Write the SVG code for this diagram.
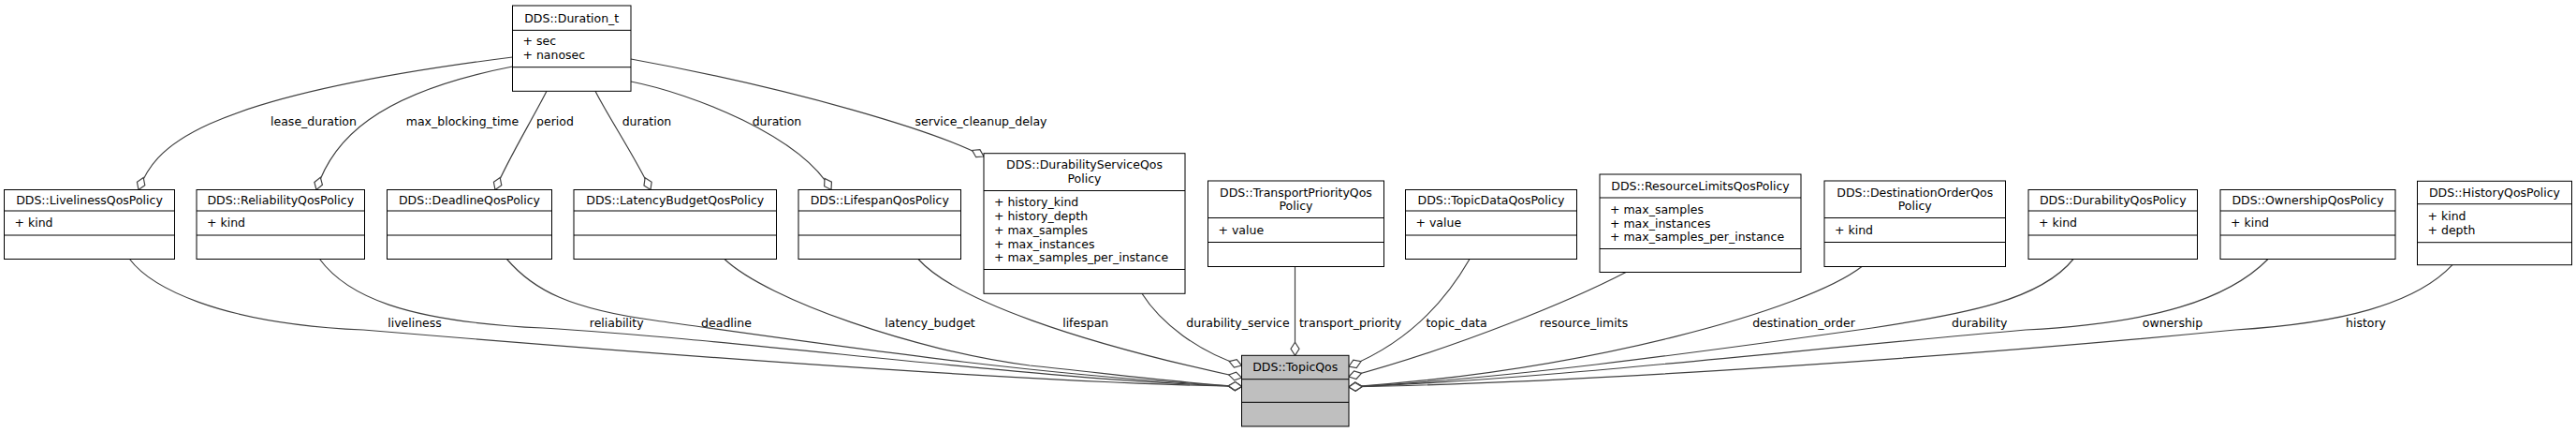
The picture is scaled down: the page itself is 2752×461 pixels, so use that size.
<svg xmlns="http://www.w3.org/2000/svg" width="2752" height="461" viewBox="0 0 2752 461">
<style>
.box{fill:#fff;stroke:#000;stroke-width:1}
.main{fill:#bfbfbf;stroke:#000;stroke-width:1}
.dv{stroke:#000;stroke-width:1}
text{font-family:"DejaVu Sans","Liberation Sans",sans-serif;font-size:12.5px;fill:#000}
.c{text-anchor:middle}
.e{fill:none;stroke:#404040;stroke-width:1.2;marker-start:url(#od)}
</style>
<defs>
<marker id="od" markerWidth="16" markerHeight="12" viewBox="-1 -6 16 12" refX="0" refY="0" orient="auto" markerUnits="userSpaceOnUse" overflow="visible">
<path d="M0,0 L7,-4.5 L14,0 L7,4.5 Z" fill="#fff" stroke="#404040" stroke-width="1.2"/>
</marker>
</defs>
<rect x="0" y="0" width="2752" height="461" fill="#fff"/>
<g id="edges">
<path class="e" d="M148,202.5 C165,160 200,105 547.5,61"/>
<path class="e" d="M338,202.5 C355,150 400,100 547.5,71"/>
<path class="e" d="M529,202.5 C540,175 570,125 584,97.3"/>
<path class="e" d="M695,202.5 C680,170 650,125 636,97.3"/>
<path class="e" d="M888,202.5 C855,145 740,100 674,87"/>
<path class="e" d="M1051,167 C1000,140 850,95 674,63"/>
<path class="e" d="M1326.5,412.5 C1100,408 700,378 388,352 C230,345 160,305 138.5,276.5"/>
<path class="e" d="M1326.5,412.5 C1100,405 800,363 580,350 C430,343 370,315 341.5,276.5"/>
<path class="e" d="M1326.5,412.5 C1100,400 900,370 700,342 C610,330 570,310 541.5,276.5"/>
<path class="e" d="M1326.5,412.5 C1250,408 1180,398 1100,390 C980,375 820,320 774,276.5"/>
<path class="e" d="M1326.5,403 C1150,365 1020,320 981,276.5"/>
<path class="e" d="M1326.5,390 C1280,375 1240,345 1220,313.3"/>
<path class="e" d="M1383.5,379.3 L1383.5,284.5"/>
<path class="e" d="M1441,391 C1505,365 1545,320 1570,276.5"/>
<path class="e" d="M1441,402 C1560,370 1680,320 1737,290.5"/>
<path class="e" d="M1441,413 C1700,395 1930,330 1989,284.5"/>
<path class="e" d="M1441,413 C1600,405 1800,378 2000,350 C2100,335 2180,320 2215,276.5"/>
<path class="e" d="M1441,413 C1650,405 1900,375 2164,352 C2300,345 2380,320 2423,276.5"/>
<path class="e" d="M1441,413 C1700,408 2100,380 2388,352 C2500,345 2580,325 2620,282.7"/>
<text class="c" x="335" y="134">lease_duration</text>
<text class="c" x="494" y="134">max_blocking_time</text>
<text class="c" x="593" y="134">period</text>
<text class="c" x="691" y="134">duration</text>
<text class="c" x="830" y="134">duration</text>
<text class="c" x="1048" y="134">service_cleanup_delay</text>
<text class="c" x="443" y="349">liveliness</text>
<text class="c" x="658.7" y="349">reliability</text>
<text class="c" x="776" y="349">deadline</text>
<text class="c" x="993.5" y="349">latency_budget</text>
<text class="c" x="1159.7" y="349">lifespan</text>
<text class="c" x="1322.5" y="349">durability_service</text>
<text class="c" x="1442.5" y="349">transport_priority</text>
<text class="c" x="1556" y="349">topic_data</text>
<text class="c" x="1692" y="349">resource_limits</text>
<text class="c" x="1927" y="349">destination_order</text>
<text class="c" x="2114.7" y="349">durability</text>
<text class="c" x="2321" y="349">ownership</text>
<text class="c" x="2527.5" y="349">history</text>
</g>
<g id="Duration_t">
<rect class="box" x="547.5" y="6" width="126.5" height="91.3"/>
<line class="dv" x1="547.5" y1="32.3" x2="674" y2="32.3"/>
<line class="dv" x1="547.5" y1="71.7" x2="674" y2="71.7"/>
<text class="c" x="610.75" y="23.5">DDS::Duration_t</text>
<text x="558.5" y="48">+ sec</text>
<text x="558.5" y="63">+ nanosec</text>
</g>
<g id="LivelinessQosPolicy">
<rect class="box" x="4.5" y="202.5" width="182" height="74"/>
<line class="dv" x1="4.5" y1="225" x2="186.5" y2="225"/>
<line class="dv" x1="4.5" y1="251" x2="186.5" y2="251"/>
<text class="c" x="95.5" y="218">DDS::LivelinessQosPolicy</text>
<text x="15.5" y="242.3">+ kind</text>
</g>
<g id="ReliabilityQosPolicy">
<rect class="box" x="210" y="202.5" width="179.5" height="74"/>
<line class="dv" x1="210" y1="225" x2="389.5" y2="225"/>
<line class="dv" x1="210" y1="251" x2="389.5" y2="251"/>
<text class="c" x="299.75" y="218">DDS::ReliabilityQosPolicy</text>
<text x="221" y="242.3">+ kind</text>
</g>
<g id="DeadlineQosPolicy">
<rect class="box" x="413.5" y="202.5" width="176" height="74"/>
<line class="dv" x1="413.5" y1="225" x2="589.5" y2="225"/>
<line class="dv" x1="413.5" y1="251" x2="589.5" y2="251"/>
<text class="c" x="501.5" y="218">DDS::DeadlineQosPolicy</text>
</g>
<g id="LatencyBudgetQosPolicy">
<rect class="box" x="613" y="202.5" width="216.5" height="74"/>
<line class="dv" x1="613" y1="225" x2="829.5" y2="225"/>
<line class="dv" x1="613" y1="251" x2="829.5" y2="251"/>
<text class="c" x="721.25" y="218">DDS::LatencyBudgetQosPolicy</text>
</g>
<g id="LifespanQosPolicy">
<rect class="box" x="853" y="202.5" width="173.5" height="74"/>
<line class="dv" x1="853" y1="225" x2="1026.5" y2="225"/>
<line class="dv" x1="853" y1="251" x2="1026.5" y2="251"/>
<text class="c" x="939.75" y="218">DDS::LifespanQosPolicy</text>
</g>
<g id="DurabilityServiceQosPolicy">
<rect class="box" x="1051" y="163.7" width="215" height="149.6"/>
<line class="dv" x1="1051" y1="203.5" x2="1266" y2="203.5"/>
<line class="dv" x1="1051" y1="287.5" x2="1266" y2="287.5"/>
<text class="c" x="1158.5" y="180.4">DDS::DurabilityServiceQos</text>
<text class="c" x="1158.5" y="195.1">Policy</text>
<text x="1062" y="220.4">+ history_kind</text>
<text x="1062" y="235.1">+ history_depth</text>
<text x="1062" y="249.8">+ max_samples</text>
<text x="1062" y="264.5">+ max_instances</text>
<text x="1062" y="279.2">+ max_samples_per_instance</text>
</g>
<g id="TransportPriorityQosPolicy">
<rect class="box" x="1290.5" y="193" width="188" height="91.5"/>
<line class="dv" x1="1290.5" y1="232.5" x2="1478.5" y2="232.5"/>
<line class="dv" x1="1290.5" y1="258.5" x2="1478.5" y2="258.5"/>
<text class="c" x="1384.5" y="209.7">DDS::TransportPriorityQos</text>
<text class="c" x="1384.5" y="224.4">Policy</text>
<text x="1301.5" y="249.8">+ value</text>
</g>
<g id="TopicDataQosPolicy">
<rect class="box" x="1501.5" y="202.5" width="183" height="74"/>
<line class="dv" x1="1501.5" y1="225" x2="1684.5" y2="225"/>
<line class="dv" x1="1501.5" y1="251" x2="1684.5" y2="251"/>
<text class="c" x="1593" y="218">DDS::TopicDataQosPolicy</text>
<text x="1512.5" y="242.3">+ value</text>
</g>
<g id="ResourceLimitsQosPolicy">
<rect class="box" x="1709" y="186" width="215" height="104.5"/>
<line class="dv" x1="1709" y1="211" x2="1924" y2="211"/>
<line class="dv" x1="1709" y1="265.5" x2="1924" y2="265.5"/>
<text class="c" x="1816.5" y="202.8">DDS::ResourceLimitsQosPolicy</text>
<text x="1720" y="228">+ max_samples</text>
<text x="1720" y="242.6">+ max_instances</text>
<text x="1720" y="257.3">+ max_samples_per_instance</text>
</g>
<g id="DestinationOrderQosPolicy">
<rect class="box" x="1949" y="193" width="193.5" height="91.5"/>
<line class="dv" x1="1949" y1="232.5" x2="2142.5" y2="232.5"/>
<line class="dv" x1="1949" y1="258.5" x2="2142.5" y2="258.5"/>
<text class="c" x="2045.75" y="209.7">DDS::DestinationOrderQos</text>
<text class="c" x="2045.75" y="224.4">Policy</text>
<text x="1960" y="249.8">+ kind</text>
</g>
<g id="DurabilityQosPolicy">
<rect class="box" x="2167" y="202.5" width="180.5" height="74"/>
<line class="dv" x1="2167" y1="225" x2="2347.5" y2="225"/>
<line class="dv" x1="2167" y1="251" x2="2347.5" y2="251"/>
<text class="c" x="2257.25" y="218">DDS::DurabilityQosPolicy</text>
<text x="2178" y="242.3">+ kind</text>
</g>
<g id="OwnershipQosPolicy">
<rect class="box" x="2372" y="202.5" width="187" height="74"/>
<line class="dv" x1="2372" y1="225" x2="2559" y2="225"/>
<line class="dv" x1="2372" y1="251" x2="2559" y2="251"/>
<text class="c" x="2465.5" y="218">DDS::OwnershipQosPolicy</text>
<text x="2383" y="242.3">+ kind</text>
</g>
<g id="HistoryQosPolicy">
<rect class="box" x="2582.5" y="193.3" width="165" height="89.4"/>
<line class="dv" x1="2582.5" y1="217.7" x2="2747.5" y2="217.7"/>
<line class="dv" x1="2582.5" y1="258.7" x2="2747.5" y2="258.7"/>
<text class="c" x="2665" y="209.8">DDS::HistoryQosPolicy</text>
<text x="2593.5" y="235.2">+ kind</text>
<text x="2593.5" y="249.9">+ depth</text>
</g>
<g id="TopicQos">
<rect class="main" x="1326.5" y="379.3" width="114.5" height="75.7"/>
<line class="dv" x1="1326.5" y1="404.7" x2="1441" y2="404.7"/>
<line class="dv" x1="1326.5" y1="429.3" x2="1441" y2="429.3"/>
<text class="c" x="1383.75" y="396.3">DDS::TopicQos</text>
</g>
</svg>
